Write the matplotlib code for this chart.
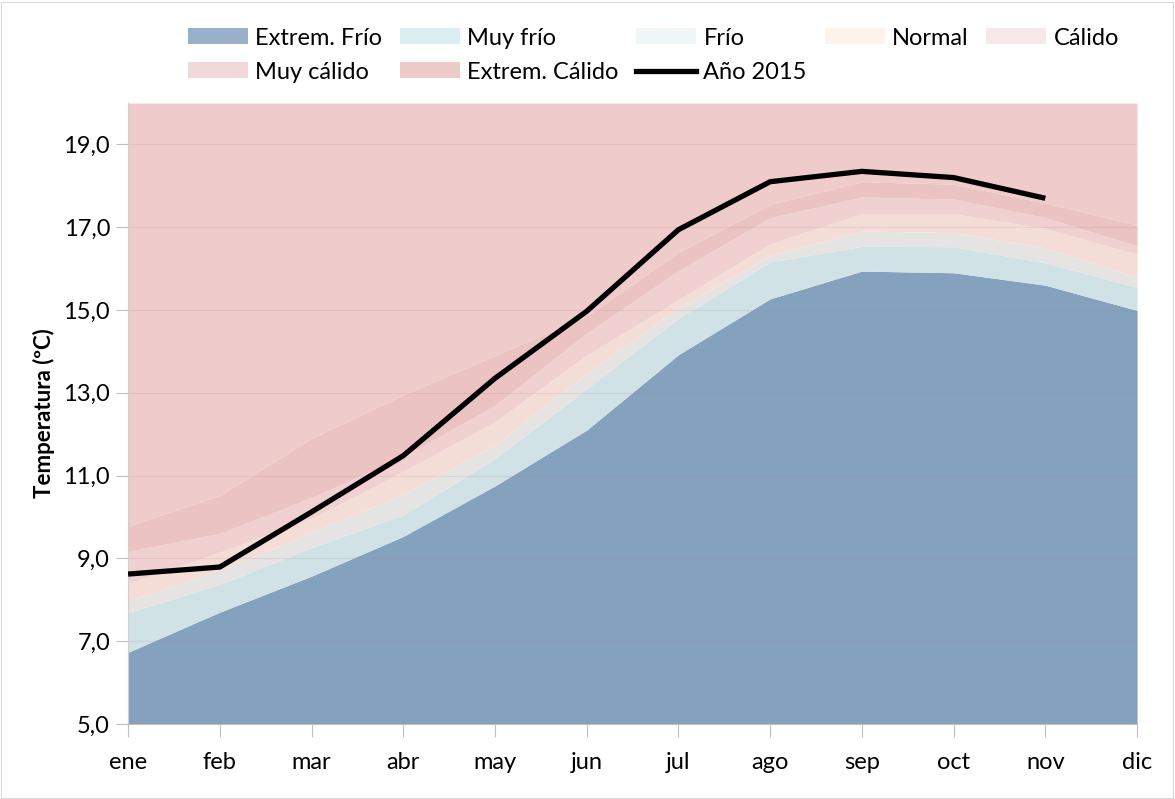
import numpy as np
import matplotlib
matplotlib.use("Agg")
import matplotlib.pyplot as plt
from matplotlib.patches import Patch, Rectangle
from matplotlib.lines import Line2D

plt.rcParams['font.family'] = ['Lato', 'DejaVu Sans']

# monthly thresholds (upper limit of each class), ºC
months = ['ene', 'feb', 'mar', 'abr', 'may', 'jun', 'jul', 'ago', 'sep', 'oct', 'nov', 'dic']
ext_frio = [6.73, 7.70, 8.57, 9.53, 10.75, 12.10, 13.92, 15.27, 15.94, 15.90, 15.60, 14.99]
muy_frio = [7.69, 8.37, 9.26, 10.05, 11.41, 13.10, 14.80, 16.16, 16.54, 16.53, 16.14, 15.55]
frio = [7.97, 8.71, 9.63, 10.55, 11.74, 13.47, 15.05, 16.32, 16.91, 16.87, 16.50, 15.79]
normal = [8.40, 9.15, 9.97, 11.10, 12.30, 13.91, 15.25, 16.60, 17.33, 17.33, 16.97, 16.35]
calido = [9.17, 9.60, 10.47, 11.45, 12.70, 14.44, 15.95, 17.23, 17.73, 17.68, 17.23, 16.55]
muy_calido = [9.78, 10.52, 11.90, 12.95, 13.90, 14.85, 16.40, 17.55, 18.10, 18.04, 17.59, 17.05]
techo = 20.0
anio_2015 = [8.62, 8.79, 10.12, 11.48, 13.35, 14.97, 16.94, 18.10, 18.35, 18.20, 17.70, np.nan]

labels = ['Extrem. Frío', 'Muy frío', 'Frío', 'Normal', 'Cálido', 'Muy cálido', 'Extrem. Cálido']
fill_cols = ['#84A1BD', '#D0E2E6', '#E6E4E3', '#F5DDD7', '#F0D0D0', '#EBC3C3', '#EFCBCB']
leg_cols = ['#9AB0C8', '#DAEDF1', '#EEF6F9', '#FEF3EB', '#F7E8E9', '#F2D9D9', '#EDCACA']

x = np.arange(len(months))
fig = plt.figure(figsize=(11.75, 7.99), dpi=100)
ax = fig.add_axes([0.109, 0.094, 0.8587, 0.777])

bounds = [ext_frio, muy_frio, frio, normal, calido, muy_calido]
prev = np.full(len(x), 5.0)
for i, b in enumerate(bounds):
    ax.fill_between(x, prev, b, color=fill_cols[i], lw=0, zorder=1)
    prev = np.asarray(b)
ax.fill_between(x, prev, techo, color=fill_cols[6], lw=0, zorder=1)

# faint gridlines
for t in range(7, 20, 2):
    ax.axhline(t, color='#B08585', lw=0.8, alpha=0.18, zorder=2)

ax.plot(x, anio_2015, color='black', lw=3.8, solid_capstyle='butt', solid_joinstyle='round', zorder=3)

ax.set_xlim(0, 11)
ax.set_ylim(5, 20)
ax.set_yticks(range(5, 20, 2))
ax.set_yticklabels([f'{t},0' for t in range(5, 20, 2)])
ax.set_xticks(x)
ax.set_xticklabels(months)
ax.tick_params(axis='both', labelsize=17, colors='#BFBFBF', labelcolor='black', length=9, width=0.8)
ax.tick_params(axis='x', pad=11)
ax.tick_params(axis='y', pad=4)
for s in ['top', 'right']:
    ax.spines[s].set_visible(False)
ax.spines['left'].set_color('#D0D0D0')
ax.spines['bottom'].set_color('#BFBFBF')
ax.set_ylabel('Temperatura (ºC)', fontsize=16, fontweight='bold', labelpad=6)

h = [Patch(facecolor=c, edgecolor='none') for c in leg_cols]
h.append(Line2D([0], [0], color='black', lw=3.8))
names = labels + ['Año 2015']
order = [0, 5, 1, 6, 2, 7, 3, 4]
fig.legend([h[i] for i in order], [names[i] for i in order], ncol=5,
           loc='upper center', bbox_to_anchor=(0.556, 0.992), frameon=False,
           fontsize=17, handlelength=2.55, handleheight=0.65, handletextpad=0.3,
           labelspacing=0.55, columnspacing=0.75)

fig.patches.append(Rectangle((0.001, 0.001), 0.997, 0.997, transform=fig.transFigure,
                             fill=False, edgecolor='#D9D9D9', lw=0.8))
fig.savefig('out.png', dpi=100)
